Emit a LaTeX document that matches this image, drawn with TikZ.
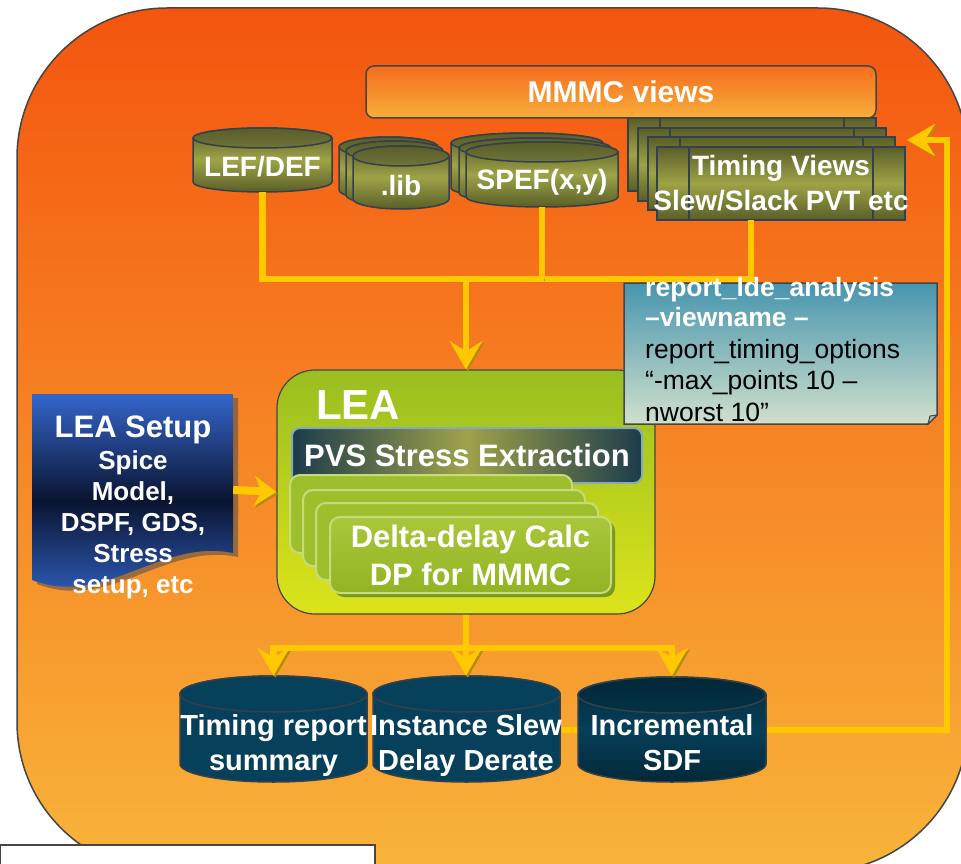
\documentclass[tikz,border=0pt]{standalone}
\usepackage{fontspec}
\setmainfont{Liberation Sans}
\usetikzlibrary{arrows.meta,calc}

\definecolor{orTop}{HTML}{F4550F}
\definecolor{orBot}{HTML}{F8B43A}
\definecolor{edgeGray}{HTML}{454545}
\definecolor{olDark}{HTML}{5A5E28}
\definecolor{olLight}{HTML}{9EA347}
\definecolor{olCap}{HTML}{70743A}
\definecolor{cylEdge}{HTML}{34404A}
\definecolor{tealA}{HTML}{06405A}
\definecolor{tealB}{HTML}{022838}
\definecolor{yel}{HTML}{FFC800}
\definecolor{yelSh}{HTML}{B48A12}
\definecolor{mmTop}{HTML}{F46D1E}
\definecolor{mmBot}{HTML}{F8AE3A}
\definecolor{leaTop}{HTML}{98BE20}
\definecolor{leaBot}{HTML}{DCE41A}
\definecolor{pvsDark}{HTML}{1C3C4C}
\definecolor{pvsMid}{HTML}{A0A24A}
\definecolor{pvsEdge}{HTML}{86AABA}
\definecolor{ddFill}{HTML}{9EBF2C}
\definecolor{ddEdge}{HTML}{C6DB7E}
\definecolor{ddShadow}{HTML}{7A981C}
\definecolor{ddTop}{HTML}{A8C73A}
\definecolor{ddBot}{HTML}{92B424}
\definecolor{blueA}{HTML}{3466CC}
\definecolor{navy}{HTML}{0A1430}
\definecolor{noteTop}{HTML}{4795AF}
\definecolor{noteBot}{HTML}{D0E0CC}

\tikzset{
  yconn/.style={draw=yel, line width=6.5pt, line join=miter,
    preaction={draw=yelSh, transform canvas={shift={(1.8pt,-1.8pt)}}}},
  ytip/.style={-{Stealth[length=28pt,width=32pt,inset=10pt]}},
  olbody/.style={shade, top color=olDark, bottom color=olDark, middle color=olLight, draw=cylEdge, line width=1.5pt},
  olcap/.style={shade, top color=olDark, bottom color=olCap, draw=cylEdge, line width=1.5pt},
  tlbody/.style={fill=tealA, draw=cylEdge, line width=1.5pt},
  tlcap/.style={fill=tealA, draw=cylEdge, line width=1.5pt},
  sdfbody/.style={shade, top color=tealB, bottom color=tealB, middle color=tealA, draw=cylEdge, line width=1.5pt},
  sdfcap/.style={shade, top color=tealB, bottom color=tealB!60!tealA, draw=cylEdge, line width=1.5pt},
  wtxt/.style={text=white, font=\bfseries\fontsize{28}{35}\selectfont, inner sep=0pt, align=center},
  btxt/.style={wtxt, font=\bfseries\fontsize{29}{35}\selectfont},
  leabox/.style={shade, top color=leaTop, bottom color=leaBot, draw=edgeGray, line width=1.2pt, rounded corners=38pt, inner sep=0pt},
  pvsbox/.style={shade, left color=pvsDark, right color=pvsDark, middle color=pvsMid, draw=pvsEdge, line width=2pt,
    rounded corners=8pt, text=white, font=\bfseries\fontsize{31}{36}\selectfont, inner sep=0pt},
  ddlayer/.style={fill=ddFill, draw=ddEdge, line width=2pt, rounded corners=10pt},
  ddfront/.style={shade, top color=ddTop, bottom color=ddBot, draw=ddEdge, line width=2pt, rounded corners=10pt,
    text=white, font=\bfseries\fontsize{31}{38}\selectfont, align=center, inner sep=0pt},
  mmbox/.style={shade, top color=mmTop, bottom color=mmBot, draw=edgeGray, line width=1.5pt, rounded corners=8pt,
    text=white, font=\bfseries\fontsize{30}{36}\selectfont, inner sep=0pt},
  notebox/.style={shade, top color=noteTop, bottom color=noteBot, draw=edgeGray, line width=1.5pt},
  notew/.style={text=white, font=\bfseries\fontsize{26.5}{31}\selectfont, inner sep=0pt},
  noteb/.style={text=black, font=\fontsize{26.5}{31}\selectfont, inner sep=0pt},
}

\newcommand{\drawcyl}[7]{%
  \pgfmathsetmacro{\cylcx}{(#1+#2)/2}%
  \pgfmathsetmacro{\cylrx}{(#2-#1)/2}%
  \pgfmathsetmacro{\cylyt}{#3+#5}%
  \pgfmathsetmacro{\cylyb}{#4-#5}%
  \path[#6] (#1,\cylyt) -- (#1,\cylyb)
     arc[start angle=180,end angle=360,x radius=\cylrx pt,y radius=#5 pt]
     -- (#2,\cylyt)
     arc[start angle=0,end angle=180,x radius=\cylrx pt,y radius=#5 pt] -- cycle;
  \path[#7] (\cylcx,\cylyt) ellipse[x radius=\cylrx pt,y radius=#5 pt];
}

\begin{document}
\begin{tikzpicture}[x=1pt,y=-1pt]
\useasboundingbox (0,0) rectangle (961,864);
\clip (0,0) rectangle (961,864);

% outer rounded background
\path[shade, top color=orTop, bottom color=orBot, draw=edgeGray, line width=1.5pt, rounded corners=150pt]
  (17,8) rectangle (968,872);
% white box at bottom left
\path[fill=white, draw=edgeGray, line width=2pt] (0,845) rectangle (375,885);

% LEA block
\node[leabox, minimum width=378pt, minimum height=244pt] (lea) at (466,492) {};
\node[wtxt, font=\bfseries\fontsize{42}{48}\selectfont] (leatitle) at (358,405) {LEA};
\node[pvsbox, minimum width=350pt, minimum height=55pt] (pvs) at (467,455.5) {PVS Stress Extraction};
\path[ddlayer] (290,475) rectangle (572,553);
\path[ddlayer] (303,490) rectangle (585,566);
\path[ddlayer] (316,503) rectangle (598,580);
\fill[ddShadow, rounded corners=10pt] (334,521) rectangle (615,597);
\node[ddfront, minimum width=281pt, minimum height=76pt] (dd) at (470.5,555) {Delta-delay Calc\\DP for MMMC};

% top olive cylinders
\drawcyl{193}{332}{128}{192}{10}{olbody}{olcap}
\node[wtxt, minimum height=50pt] (lef) at (262.5,167) {LEF/DEF};
\drawcyl{339}{438}{137}{200}{10}{olbody}{olcap}
\drawcyl{346}{443}{141}{205}{10}{olbody}{olcap}
\drawcyl{353}{449}{146}{209}{10}{olbody}{olcap}
\node[wtxt] (lib) at (401,185) {.lib};
\drawcyl{451}{603}{133}{198}{10}{olbody}{olcap}
\drawcyl{459}{611}{138}{203}{10}{olbody}{olcap}
\drawcyl{466}{618}{142}{207}{10}{olbody}{olcap}
\node[wtxt, minimum height=49pt] (spef) at (542,182.5) {SPEF(x,y)};

% timing views stack
\path[olbody] (628,118) rectangle (876,191);
\draw[cylEdge, line width=1.5pt] (660,118) -- (660,191) (844,118) -- (844,191);
\path[olbody] (638,128) rectangle (886,201);
\draw[cylEdge, line width=1.5pt] (670,128) -- (670,201) (854,128) -- (854,201);
\path[olbody] (648,137) rectangle (895,210);
\draw[cylEdge, line width=1.5pt] (680,137) -- (680,210) (863,137) -- (863,210);
\path[olbody] (657,147) rectangle (905,220);
\draw[cylEdge, line width=1.5pt] (689,147) -- (689,220) (873,147) -- (873,220);
\node[wtxt, minimum width=248pt, minimum height=73pt] (tv) at (781,183.5) {Timing Views\\Slew/Slack PVT etc};

% MMMC views
\node[mmbox, minimum width=510pt, minimum height=52pt] (mmmc) at (621,92) {MMMC views};

% top connectors
\coordinate (j1) at (466,279);
\coordinate (tvx) at ($(tv.south)+(-30,0)$);
\draw[yconn] (lef.south) -- (lef.south |- j1) -- (j1 -| tvx) -- (tvx);
\draw[yconn] (spef.south) -- (spef.south |- j1);
\draw[yconn, ytip] (j1) -- (lea.north);

% note
\path[notebox] (624,283) -- (937,283) -- (937,415) -- (928,424) -- (624,424) -- cycle;
\path[fill=noteBot!60!gray, draw=edgeGray, line width=1pt] (928,424) -- (930,416) -- (937,415) -- cycle;
\node[notew, anchor=base west] (n1) at (645,296) {report\_lde\_analysis};
\node[notew, anchor=base west] (n2) at (645,326) {–viewname –};
\node[noteb, anchor=base west] (n3) at (645,358) {report\_timing\_options};
\node[noteb, anchor=base west] (n4) at (645,389) {“-max\_points 10 –};
\node[noteb, anchor=base west] (n5) at (645,421) {nworst 10”};

% LEA setup document shape
\path[fill=gray!60!black, opacity=0.55, shift={(5,4)}]
  (32,394) -- (233,394) -- (233,553) .. controls (160,538) and (105,608) .. (32,580) -- cycle;
\path[shade, top color=blueA, bottom color=blueA, middle color=navy]
  (32,394) -- (233,394) -- (233,553) .. controls (160,538) and (105,608) .. (32,580) -- cycle;
\node[minimum width=201pt, minimum height=192pt, inner sep=0pt] (setup) at (132.5,490) {};
\node[wtxt, font=\bfseries\fontsize{31}{36}\selectfont] (setuptitle) at (133,430) {LEA Setup};
\node[wtxt, font=\bfseries\fontsize{26}{31}\selectfont] (setupbody) at (133,525) {Spice\\Model,\\DSPF, GDS,\\Stress\\setup, etc};
\draw[yconn, line width=8pt, -{Stealth[length=22pt,width=30pt,inset=7pt]}] (setup.east) -- (lea.west);

% bottom cylinders
\drawcyl{180}{367}{676}{782}{18}{tlbody}{tlcap}
\node[btxt, minimum height=138pt] (trs) at (273.5,745) {Timing report\\summary};
\drawcyl{373}{560}{676}{782}{18}{tlbody}{tlcap}
\node[btxt, minimum height=138pt] (id) at (466,745) {Instance Slew\\Delay Derate};

% feedback connector
\coordinate (fbx) at (947,730);
\coordinate (fbend) at (907,140);
\draw[yconn, ytip] ($(id.east)+(0,-15)$) -- (fbx) |- (fbend);

\drawcyl{578}{766}{677}{782}{18}{sdfbody}{sdfcap}
\node[btxt, minimum height=134pt] (sdf) at (672,743) {Incremental\\SDF};

% bottom connectors
\coordinate (j2) at (466,648);
\draw[yconn] (lea.south) -- (j2);
\draw[yconn, ytip] (j2) -| (trs.north);
\draw[yconn, ytip] (j2) -- (id.north);
\draw[yconn, ytip] (j2) -| (sdf.north);

\end{tikzpicture}
\end{document}
